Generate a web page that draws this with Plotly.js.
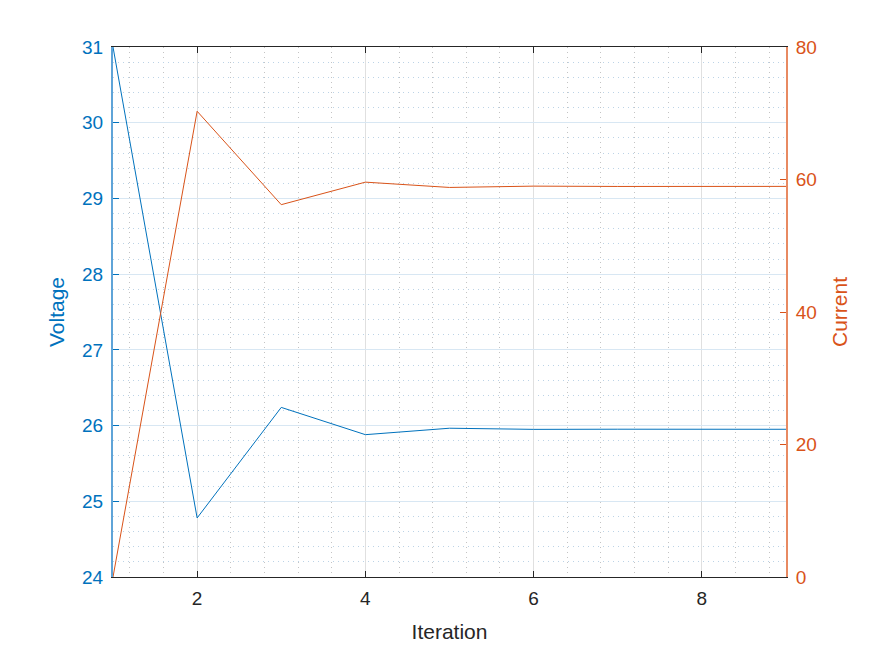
<!DOCTYPE html>
<html>
<head>
<meta charset="utf-8">
<script src="https://cdn.plot.ly/plotly-3.0.1.min.js"></script>
<style>body{margin:0;background:#fff}</style>
</head>
<body>
<div id="chart" style="width:869px;height:649px"></div>
<script>
var iteration = [1, 2, 3, 4, 5, 6, 7, 8, 9];
var voltage = [31, 24.78, 26.24, 25.88, 25.965, 25.95, 25.952, 25.951, 25.951];
var current = [0, 70.3, 56.2, 59.6, 58.8, 59.0, 58.95, 58.96, 58.96];

var blue = '#0072BD';
var orange = '#D95319';
var txt = '#262626';
var fontFam = 'Liberation Sans, Arial, Helvetica, sans-serif';

var traceVoltage = {
  x: iteration,
  y: voltage,
  name: 'Voltage',
  type: 'scatter',
  mode: 'lines',
  line: {color: blue, width: 1},
  yaxis: 'y'
};

var traceCurrent = {
  x: iteration,
  y: current,
  name: 'Current',
  type: 'scatter',
  mode: 'lines',
  line: {color: orange, width: 1},
  yaxis: 'y2'
};

var layout = {
  width: 869,
  height: 649,
  margin: {l: 113, r: 83, t: 47, b: 72},
  paper_bgcolor: '#fff',
  plot_bgcolor: '#fff',
  showlegend: false,
  font: {family: fontFam, size: 18, color: txt},
  xaxis: {
    range: [1, 9],
    tickvals: [2, 4, 6, 8],
    ticks: 'inside',
    ticklen: 6,
    tickcolor: txt,
    ticklabelstandoff: 4,
    showline: true,
    linecolor: txt,
    linewidth: 1,
    mirror: 'ticks',
    showgrid: true,
    gridcolor: '#e0e0e0',
    zeroline: false,
    automargin: false,
    tickfont: {size: 19, color: txt},
    title: {text: 'Iteration', font: {size: 21, color: txt}, standoff: 16},
    minor: {dtick: 0.4, tick0: 0, showgrid: true, griddash: '1px,4px', gridcolor: '#c4c4c4', gridwidth: 1}
  },
  yaxis: {
    range: [24, 31],
    dtick: 1,
    ticks: 'inside',
    ticklen: 6,
    tickcolor: blue,
    ticklabelstandoff: 4,
    showline: true,
    linecolor: '#5fa4d8',
    linewidth: 2,
    showgrid: true,
    gridcolor: '#d8e7f3',
    zeroline: false,
    automargin: false,
    tickfont: {size: 19, color: blue},
    title: {text: 'Voltage', font: {size: 21, color: blue}, standoff: 12},
    minor: {dtick: 0.2, showgrid: true, griddash: '1px,4px', gridcolor: '#bcd3e6', gridwidth: 1}
  },
  yaxis2: {
    range: [0, 80],
    dtick: 20,
    overlaying: 'y',
    side: 'right',
    ticks: 'inside',
    ticklen: 6,
    tickcolor: orange,
    ticklabelstandoff: 4,
    showline: true,
    linecolor: '#e88a62',
    linewidth: 2,
    showgrid: false,
    zeroline: false,
    automargin: false,
    tickfont: {size: 19, color: orange},
    title: {text: 'Current', font: {size: 21, color: orange}, standoff: 16}
  }
};

Plotly.newPlot('chart', [traceVoltage, traceCurrent], layout, {displayModeBar: false, staticPlot: true});
</script>
</body>
</html>
